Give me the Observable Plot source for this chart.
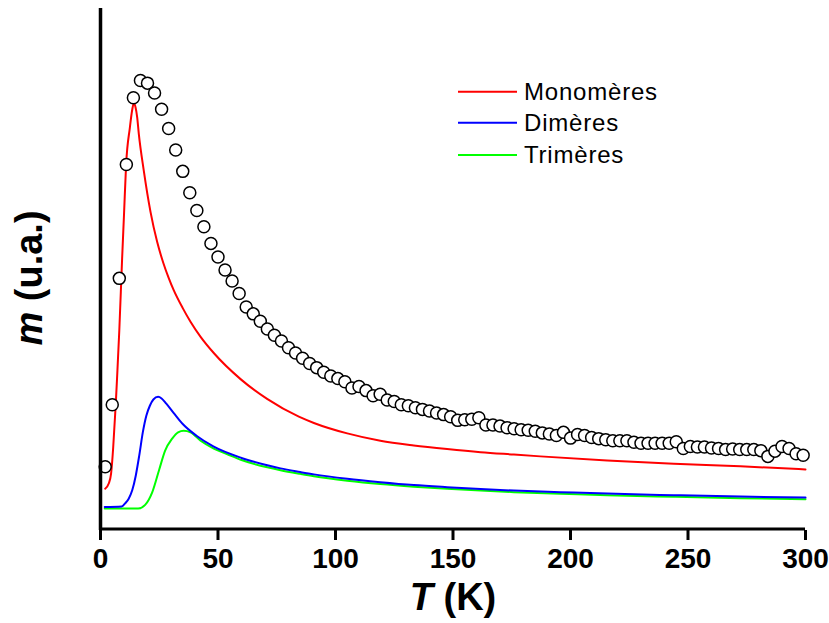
<!DOCTYPE html>
<html>
<head>
<meta charset="utf-8">
<script src="https://cdn.jsdelivr.net/npm/d3@7"></script>
<script src="https://cdn.jsdelivr.net/npm/@observablehq/plot@0.6"></script>
<style>
  html, body { margin: 0; padding: 0; background: #fff; }
  #chart svg { display: block; }
</style>
</head>
<body>
<div id="chart"></div>
<script>
// Experimental points (T in K, m in arbitrary units)
const expT = [2,5,8,11,14,17,20,23,26,29,32,35,38,41,44,47,50,53,56,59,62,65,68,71,74,77,80,83,86,89,92,95,98,101,104,107,110,113,116,119,122,125,128,131,134,137,140,143,146,149,152,155,158,161,164,167,170,173,176,179,182,185,188,191,194,197,200,203,206,209,212,215,218,221,224,227,230,233,236,239,242,245,248,251,254,257,260,263,266,269,272,275,278,281,284,287,290,293,296,299];
const expM = [12.2,24.1,48.3,70.1,82.9,86.2,85.7,83.8,80.7,77.0,
  72.9,68.8,64.7,61.3,58.2,55.0,52.4,49.9,47.8,45.4,
  42.8,41.5,40.1,38.6,37.4,36.3,35.0,34.0,33.0,32.0,
  31.2,30.3,29.6,29.1,28.5,27.3,27.6,26.8,25.8,26.1,
  25.0,24.7,24.1,23.9,23.5,23.2,22.9,22.5,22.2,21.8,
  21.1,21.2,21.3,21.6,20.2,20.2,20.0,19.7,19.5,19.3,
  19.2,19.0,18.7,18.5,18.2,18.8,17.7,18.4,18.2,17.8,
  17.6,17.4,17.2,17.2,17.2,16.9,16.7,16.7,16.7,16.7,
  16.7,17.0,15.7,16.1,16.0,16.0,15.8,15.7,15.5,15.6,
  15.5,15.5,15.5,15.3,14.2,15.2,16.1,15.7,14.7,14.4];

// Monomères curve
const monoT = [2,3.5,4.5,5.4,6,6.5,7.1,8,9.2,10,10.9,12.5,13.5,14.2,14.9,15.6,16.3,18.4,21.3,24.1,26.7,29,31.2,35,38.3,42.6,48.2,59.6,70.9,84.4,90.8,105,119.1,133.3,147.5,161.7,175.9,187.2,215.6,244,272.3,300];
const monoM = [8.0,9.0,10.9,15.9,20.5,24.3,29.7,38.3,52.1,60.5,70.1,77.2,80.6,81.9,81.1,79.2,76.0,69.0,61.0,55.3,51.3,48.4,46.0,42.6,40.0,37.1,34.0,29.0,25.2,21.8,20.6,18.6,17.2,16.3,15.6,15.0,14.55,14.2,13.4,12.8,12.3,11.7];

// Dimères curve
const dimT = [1.8,9,10.5,12,13.5,15,16.5,18,19.5,21,22.5,24.5,26,28,31,35,41,48,60,71,76.6,85,90.8,105,119.1,133.3,147.5,161.7,175.9,195.7,215.6,244,272.3,300];
const dimM = [4.5,4.6,5.2,6.1,7.7,10.5,14.4,18.8,22.0,23.9,25.1,25.6,25.3,24.3,22.6,20.4,18.1,16.1,13.9,12.5,11.9,11.2,10.75,9.9,9.25,8.7,8.3,7.95,7.65,7.35,7.07,6.76,6.5,6.3];

// Trimères curve
const triT = [1.8,13,16,19,22,25,27.5,30.5,33,35.4,38.3,42.6,48.2,54,60,71,76.6,85,90.8,105,119.1,133.3,147.5,161.7,175.9,195.7,215.6,244,272.3,300];
const triM = [4.2,4.2,4.2,4.9,7.3,11.7,15.3,17.6,18.8,19.1,18.8,17.2,15.7,14.6,13.5,12.1,11.55,10.85,10.4,9.55,8.9,8.4,8.0,7.65,7.35,7.05,6.75,6.45,6.2,6.0];

const xTicks = [0,50,100,150,200,250,300];
const seriesNames = ["Monomères","Dimères","Trimères"];
const seriesColors = ["#ff0000","#0000ff","#00ff00"];

const FONT = "'Liberation Sans', Arial, Helvetica, sans-serif";

const toRows = (ts, ms) => ts.map((t, i) => ({T: t, m: ms[i]}));
const expRows = toRows(expT, expM);
const monoRows = toRows(monoT, monoM);
const dimRows = toRows(dimT, dimM);
const triRows = toRows(triT, triM);

const chart = Plot.plot({
  width: 829,
  height: 623,
  marginLeft: 100,
  marginRight: 24,
  marginTop: 8,
  marginBottom: 93,
  style: {fontFamily: FONT, background: "#fff", color: "#000", overflow: "visible"},
  x: {domain: [0, 300]},
  y: {domain: [0, 100], axis: null},
  marks: [
    Plot.line(triRows, {x: "T", y: "m", stroke: seriesColors[2], strokeWidth: 2, curve: "monotone-x"}),
    Plot.line(dimRows, {x: "T", y: "m", stroke: seriesColors[1], strokeWidth: 2, curve: "monotone-x"}),
    Plot.line(monoRows, {x: "T", y: "m", stroke: seriesColors[0], strokeWidth: 2, curve: "monotone-x"}),
    Plot.dot(expRows, {x: "T", y: "m", r: 6, stroke: "#000", fill: "#fff", strokeWidth: 1.5}),
    Plot.ruleX([0], {stroke: "#000", strokeWidth: 3.5}),
    Plot.ruleY([0], {stroke: "#000", strokeWidth: 3, dy: -1.5}),
    Plot.axisX({ticks: xTicks, tickSize: 10, tickPadding: 8, strokeWidth: 3, fontSize: 28, fontWeight: "bold", label: null, tickFormat: d => String(d)})
  ]
});

document.getElementById("chart").appendChild(chart);

const svg = d3.select(chart);

// x-axis title
const xt = svg.append("text")
  .attr("x", 453).attr("y", 610)
  .attr("text-anchor", "middle")
  .attr("font-family", FONT).attr("font-size", 38).attr("font-weight", "bold")
  .attr("fill", "#000");
xt.append("tspan").attr("font-style", "italic").text("T");
xt.append("tspan").text(" (K)");

// y-axis title
const yt = svg.append("text")
  .attr("transform", "translate(42,278) rotate(-90)")
  .attr("text-anchor", "middle")
  .attr("font-family", FONT).attr("font-size", 38).attr("font-weight", "bold")
  .attr("fill", "#000");
yt.append("tspan").attr("font-style", "italic").text("m");
yt.append("tspan").text(" (u.a.)");

// legend
const legendY = [91.7, 122.7, 155];
const lg = svg.append("g").attr("text-anchor", "start");
seriesNames.forEach((name, i) => {
  lg.append("line")
    .attr("x1", 458).attr("x2", 517)
    .attr("y1", legendY[i]).attr("y2", legendY[i])
    .attr("stroke", seriesColors[i]).attr("stroke-width", 2);
  lg.append("text")
    .attr("x", 524).attr("y", legendY[i] + 8)
    .attr("text-anchor", "start")
    .attr("font-family", FONT).attr("font-size", 24)
    .attr("letter-spacing", 0.8)
    .attr("fill", "#000")
    .text(name);
});
</script>
</body>
</html>
